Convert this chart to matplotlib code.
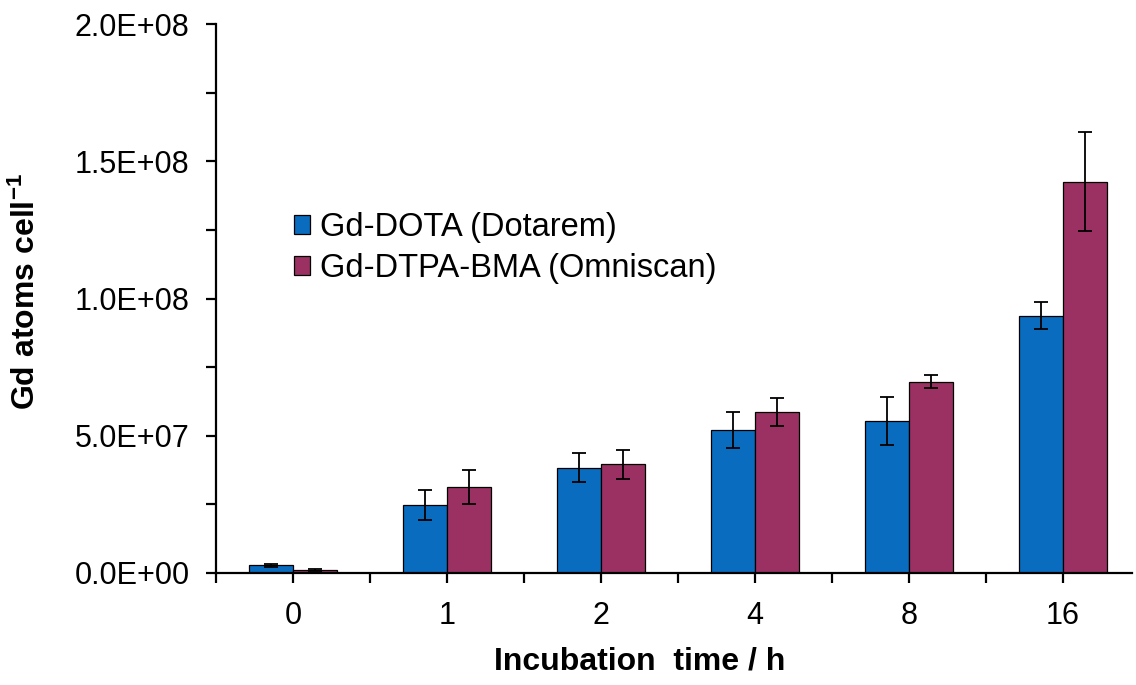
import matplotlib
matplotlib.use('Agg')
import matplotlib.pyplot as plt
import matplotlib.ticker as ticker
import numpy as np

plt.rcParams['font.family'] = ['Liberation Sans', 'DejaVu Sans']
plt.rcParams['mathtext.fontset'] = 'custom'
plt.rcParams['mathtext.rm'] = 'Liberation Sans:bold'
plt.rcParams['mathtext.bf'] = 'Liberation Sans:bold'
plt.rcParams['mathtext.default'] = 'bf'

# data
times = ['0', '1', '2', '4', '8', '16']
dota = [2.8e6, 2.47e7, 3.84e7, 5.21e7, 5.54e7, 9.37e7]
dota_err = [0.6e6, 5.5e6, 5.2e6, 6.6e6, 8.7e6, 4.9e6]
dtpa = [1.1e6, 3.13e7, 3.96e7, 5.85e7, 6.97e7, 1.426e8]
dtpa_err = [0.3e6, 6.1e6, 5.2e6, 5.1e6, 2.4e6, 1.8e7]
labels = ['Gd-DOTA (Dotarem)', 'Gd-DTPA-BMA (Omniscan)']
colors = ['#0a6cbf', '#9b3163']

fig = plt.figure(figsize=(11.36, 6.85), dpi=100)
ax = fig.add_axes([216 / 1136, 1 - 573 / 685, 916 / 1136, 549 / 685])

x = np.arange(len(times))
w = 0.285
err_kw = dict(ecolor='black', elinewidth=1.3, capsize=5, capthick=1.3)
ax.bar(x - w / 2, dota, w, yerr=dota_err, color=colors[0], edgecolor='black',
       linewidth=0.9, label=labels[0], error_kw=err_kw, zorder=2)
ax.bar(x + w / 2, dtpa, w, yerr=dtpa_err, color=colors[1], edgecolor='black',
       linewidth=0.9, label=labels[1], error_kw=err_kw, zorder=2)

ax.set_xlim(-0.5, 5.45)
ax.set_ylim(0, 2.0e8)

# axes styling
for s in ['top', 'right']:
  ax.spines[s].set_visible(False)
for s in ['left', 'bottom']:
  ax.spines[s].set_linewidth(1.6)
  ax.spines[s].set_zorder(3)

ax.set_xticks(x)
ax.set_xticklabels(times)
ax.xaxis.set_minor_locator(ticker.FixedLocator(x - 0.5))
ax.yaxis.set_major_locator(ticker.MultipleLocator(5e7))
ax.yaxis.set_minor_locator(ticker.MultipleLocator(2.5e7))
ax.yaxis.set_major_formatter(ticker.FuncFormatter(lambda v, p: f'{v:.1E}'))

ax.tick_params(axis='both', which='both', direction='out', width=1.6,
               length=7, labelsize=22, colors='black')
ax.tick_params(axis='y', which='major', pad=12)
ax.tick_params(axis='x', which='major', pad=13)

ax.set_xlabel('Incubation  time / h', fontsize=23, fontweight='bold')
ax.xaxis.set_label_coords(0.463, -0.133)
ax.set_ylabel(r'Gd atoms cell$^{-1}$', fontsize=23, fontweight='bold')
ax.yaxis.set_label_coords(-0.19, 0.512)

ax.legend(loc='center left', bbox_to_anchor=(294 / 1136, 1 - 248 / 685),
          bbox_transform=fig.transFigure, frameon=False, fontsize=23.5,
          handlelength=0.5, handleheight=0.5, handletextpad=0.3,
          labelspacing=0.3, borderpad=0, borderaxespad=0)

plt.savefig('out.png', dpi=100)
plt.close()
